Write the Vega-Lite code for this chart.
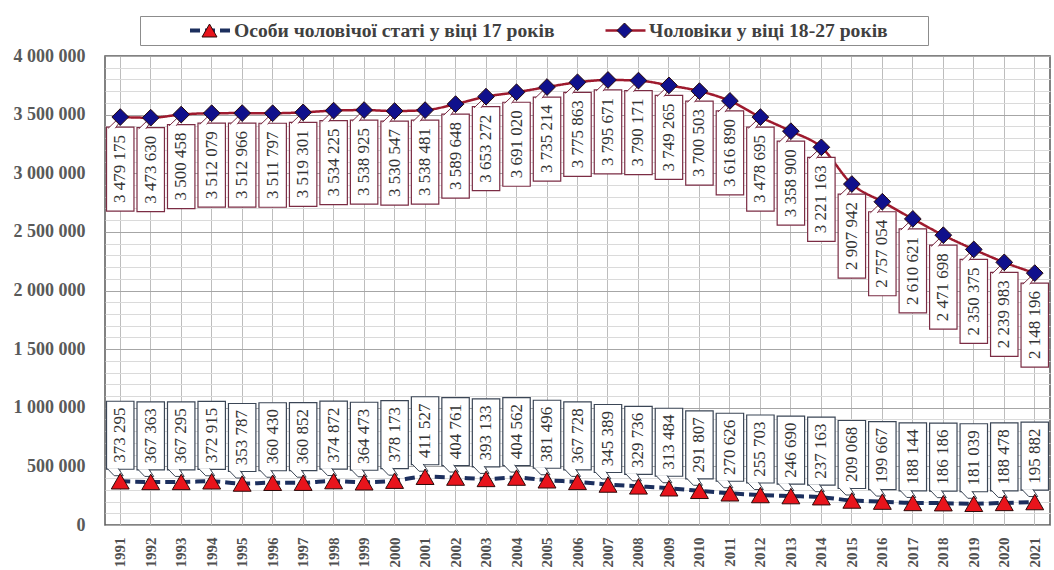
{
  "$schema": "https://vega.github.io/schema/vega-lite/v6.json",
  "width": 1054,
  "height": 570,
  "autosize": {"type": "fit", "contains": "padding"},
  "padding": {"left": 13, "top": 47, "right": 4, "bottom": 3},
  "background": "white",
  "config": {
    "locale": {"number": {"decimal": ",", "thousands": " ", "grouping": [3], "currency": ["", ""]}},
    "view": {"stroke": "#5a5a5a", "strokeWidth": 1.5},
    "font": "Liberation Serif"
  },
  "data": {
    "values": [
      {"year": 1991, "s": "Особи чоловічої статі у віці 17 років", "v": 373295},
      {"year": 1992, "s": "Особи чоловічої статі у віці 17 років", "v": 367363},
      {"year": 1993, "s": "Особи чоловічої статі у віці 17 років", "v": 367295},
      {"year": 1994, "s": "Особи чоловічої статі у віці 17 років", "v": 372915},
      {"year": 1995, "s": "Особи чоловічої статі у віці 17 років", "v": 353787},
      {"year": 1996, "s": "Особи чоловічої статі у віці 17 років", "v": 360430},
      {"year": 1997, "s": "Особи чоловічої статі у віці 17 років", "v": 360852},
      {"year": 1998, "s": "Особи чоловічої статі у віці 17 років", "v": 374872},
      {"year": 1999, "s": "Особи чоловічої статі у віці 17 років", "v": 364473},
      {"year": 2000, "s": "Особи чоловічої статі у віці 17 років", "v": 378173},
      {"year": 2001, "s": "Особи чоловічої статі у віці 17 років", "v": 411527},
      {"year": 2002, "s": "Особи чоловічої статі у віці 17 років", "v": 404761},
      {"year": 2003, "s": "Особи чоловічої статі у віці 17 років", "v": 393133},
      {"year": 2004, "s": "Особи чоловічої статі у віці 17 років", "v": 404562},
      {"year": 2005, "s": "Особи чоловічої статі у віці 17 років", "v": 381496},
      {"year": 2006, "s": "Особи чоловічої статі у віці 17 років", "v": 367728},
      {"year": 2007, "s": "Особи чоловічої статі у віці 17 років", "v": 345389},
      {"year": 2008, "s": "Особи чоловічої статі у віці 17 років", "v": 329736},
      {"year": 2009, "s": "Особи чоловічої статі у віці 17 років", "v": 313484},
      {"year": 2010, "s": "Особи чоловічої статі у віці 17 років", "v": 291807},
      {"year": 2011, "s": "Особи чоловічої статі у віці 17 років", "v": 270626},
      {"year": 2012, "s": "Особи чоловічої статі у віці 17 років", "v": 255703},
      {"year": 2013, "s": "Особи чоловічої статі у віці 17 років", "v": 246690},
      {"year": 2014, "s": "Особи чоловічої статі у віці 17 років", "v": 237163},
      {"year": 2015, "s": "Особи чоловічої статі у віці 17 років", "v": 209068},
      {"year": 2016, "s": "Особи чоловічої статі у віці 17 років", "v": 199667},
      {"year": 2017, "s": "Особи чоловічої статі у віці 17 років", "v": 188144},
      {"year": 2018, "s": "Особи чоловічої статі у віці 17 років", "v": 186186},
      {"year": 2019, "s": "Особи чоловічої статі у віці 17 років", "v": 181039},
      {"year": 2020, "s": "Особи чоловічої статі у віці 17 років", "v": 188478},
      {"year": 2021, "s": "Особи чоловічої статі у віці 17 років", "v": 195882},
      {"year": 1991, "s": "Чоловіки у віці 18-27 років", "v": 3479175},
      {"year": 1992, "s": "Чоловіки у віці 18-27 років", "v": 3473630},
      {"year": 1993, "s": "Чоловіки у віці 18-27 років", "v": 3500458},
      {"year": 1994, "s": "Чоловіки у віці 18-27 років", "v": 3512079},
      {"year": 1995, "s": "Чоловіки у віці 18-27 років", "v": 3512966},
      {"year": 1996, "s": "Чоловіки у віці 18-27 років", "v": 3511797},
      {"year": 1997, "s": "Чоловіки у віці 18-27 років", "v": 3519301},
      {"year": 1998, "s": "Чоловіки у віці 18-27 років", "v": 3534225},
      {"year": 1999, "s": "Чоловіки у віці 18-27 років", "v": 3538925},
      {"year": 2000, "s": "Чоловіки у віці 18-27 років", "v": 3530547},
      {"year": 2001, "s": "Чоловіки у віці 18-27 років", "v": 3538481},
      {"year": 2002, "s": "Чоловіки у віці 18-27 років", "v": 3589648},
      {"year": 2003, "s": "Чоловіки у віці 18-27 років", "v": 3653272},
      {"year": 2004, "s": "Чоловіки у віці 18-27 років", "v": 3691020},
      {"year": 2005, "s": "Чоловіки у віці 18-27 років", "v": 3735214},
      {"year": 2006, "s": "Чоловіки у віці 18-27 років", "v": 3775863},
      {"year": 2007, "s": "Чоловіки у віці 18-27 років", "v": 3795671},
      {"year": 2008, "s": "Чоловіки у віці 18-27 років", "v": 3790171},
      {"year": 2009, "s": "Чоловіки у віці 18-27 років", "v": 3749265},
      {"year": 2010, "s": "Чоловіки у віці 18-27 років", "v": 3700503},
      {"year": 2011, "s": "Чоловіки у віці 18-27 років", "v": 3616890},
      {"year": 2012, "s": "Чоловіки у віці 18-27 років", "v": 3478695},
      {"year": 2013, "s": "Чоловіки у віці 18-27 років", "v": 3358900},
      {"year": 2014, "s": "Чоловіки у віці 18-27 років", "v": 3221163},
      {"year": 2015, "s": "Чоловіки у віці 18-27 років", "v": 2907942},
      {"year": 2016, "s": "Чоловіки у віці 18-27 років", "v": 2757054},
      {"year": 2017, "s": "Чоловіки у віці 18-27 років", "v": 2610621},
      {"year": 2018, "s": "Чоловіки у віці 18-27 років", "v": 2471698},
      {"year": 2019, "s": "Чоловіки у віці 18-27 років", "v": 2350375},
      {"year": 2020, "s": "Чоловіки у віці 18-27 років", "v": 2239983},
      {"year": 2021, "s": "Чоловіки у віці 18-27 років", "v": 2148196}
    ]
  },
  "encoding": {
    "x": {
      "field": "year",
      "type": "ordinal",
      "scale": {"type": "band", "paddingInner": 0, "paddingOuter": 0},
      "axis": {
        "title": null,
        "labelAngle": 270,
        "labelFont": "Liberation Serif",
        "labelFontSize": 15,
        "labelFontWeight": "bold",
        "labelColor": "#505050",
        "labelPadding": 12,
        "ticks": false,
        "domain": false,
        "grid": true,
        "gridColor": "#bdbdbd",
        "bandPosition": 0.5
      }
    },
    "y": {
      "field": "v",
      "type": "quantitative",
      "scale": {"domain": [0, 4000000], "nice": false, "zero": true},
      "axis": {
        "title": null,
        "values": [0, 100000, 200000, 300000, 400000, 500000, 600000, 700000, 800000, 900000, 1000000, 1100000, 1200000, 1300000, 1400000, 1500000, 1600000, 1700000, 1800000, 1900000, 2000000, 2100000, 2200000, 2300000, 2400000, 2500000, 2600000, 2700000, 2800000, 2900000, 3000000, 3100000, 3200000, 3300000, 3400000, 3500000, 3600000, 3700000, 3800000, 3900000, 4000000],
        "format": ",d",
        "labelExpr": "datum.value % 500000 === 0 ? datum.label : ''",
        "labelOverlap": false,
        "labelFont": "Liberation Serif",
        "labelFontSize": 18,
        "labelFontWeight": "bold",
        "labelColor": "#595959",
        "labelPadding": 20,
        "ticks": false,
        "domain": false,
        "gridColor": {"condition": {"test": "datum.value % 500000 === 0", "value": "#a6a6a6"}, "value": "#dadada"},
        "gridWidth": 1
      }
    }
  },
  "layer": [
    {
      "mark": {"type": "line", "interpolate": "monotone"},
      "encoding": {
        "stroke": {
          "field": "s",
          "type": "nominal",
          "scale": {"range": ["#1c2f5e", "#9e1a2e"]},
          "legend": {
            "orient": "none",
            "legendX": 35,
            "legendY": -40,
            "direction": "horizontal",
            "title": " ",
            "titleOrient": "right",
            "titlePadding": 36,
            "padding": 4.5,
            "strokeColor": "#8c8c8c",
            "symbolOffset": 43.5,
            "labelOffset": 2,
            "columnPadding": 6,
            "clipHeight": 20,
            "labelLimit": 600,
            "labelFont": "Liberation Serif",
            "labelFontSize": 19.6,
            "labelFontWeight": "bold",
            "labelColor": "#404040",
            "symbolType": "stroke",
            "symbolSize": 1600,
            "symbolStrokeWidth": 3,
            "zindex": 1
          }
        },
        "strokeDash": {
          "field": "s",
          "type": "nominal",
          "scale": {"range": [[10, 5], [1, 0]]},
          "legend": {
            "orient": "none",
            "legendX": 35,
            "legendY": -40,
            "direction": "horizontal",
            "title": " ",
            "titleOrient": "right",
            "titlePadding": 36,
            "padding": 4.5,
            "strokeColor": "#8c8c8c",
            "symbolOffset": 43.5,
            "labelOffset": 2,
            "columnPadding": 6,
            "clipHeight": 20,
            "labelLimit": 600,
            "labelFont": "Liberation Serif",
            "labelFontSize": 19.6,
            "labelFontWeight": "bold",
            "labelColor": "#404040",
            "symbolType": "stroke",
            "symbolSize": 1600,
            "symbolStrokeWidth": 3,
            "zindex": 1
          }
        },
        "strokeWidth": {"field": "s", "type": "nominal", "scale": {"range": [4, 2.5]}, "legend": null}
      }
    },
    {
      "transform": [{"filter": "datum.s === 'Чоловіки у віці 18-27 років'"}],
      "mark": {"type": "bar", "width": {"band": 0.9}, "fill": "white", "stroke": "#7b2c44", "strokeWidth": 1.2, "yOffset": 10, "y2Offset": 94},
      "encoding": {"y2": {"field": "v"}}
    },
    {
      "transform": [{"filter": "datum.s === 'Чоловіки у віці 18-27 років'"}],
      "mark": {"type": "text", "angle": 270, "fontSize": 17, "font": "Liberation Serif", "fill": "#333333", "yOffset": 52, "align": "center", "baseline": "middle"},
      "encoding": {"text": {"field": "v", "type": "quantitative", "format": ",d"}}
    },
    {
      "transform": [{"filter": "datum.s === 'Чоловіки у віці 18-27 років'"}],
      "mark": {"type": "point", "shape": "M-1.2,1.12L-0.35,0.3L0.1,0.3L-0.5,1.12", "size": 400, "filled": true, "fill": "white", "stroke": "#7b2c44", "strokeWidth": 1, "opacity": 1}
    },
    {
      "transform": [{"filter": "datum.s === 'Особи чоловічої статі у віці 17 років'"}],
      "mark": {"type": "bar", "width": {"band": 0.9}, "fill": "white", "stroke": "#3b4656", "strokeWidth": 1.2, "yOffset": -80, "y2Offset": -12},
      "encoding": {"y2": {"field": "v"}}
    },
    {
      "transform": [{"filter": "datum.s === 'Особи чоловічої статі у віці 17 років'"}],
      "mark": {"type": "text", "angle": 270, "fontSize": 17, "font": "Liberation Serif", "fill": "#333333", "yOffset": -46, "align": "center", "baseline": "middle"},
      "encoding": {"text": {"field": "v", "type": "quantitative", "format": ",d"}}
    },
    {
      "transform": [{"filter": "datum.s === 'Особи чоловічої статі у віці 17 років'"}],
      "mark": {"type": "point", "shape": "M-1.3,-1.28L-0.6,-0.55L0.3,-0.55L-0.2,-1.28", "size": 400, "filled": true, "fill": "white", "stroke": "#3b4656", "strokeWidth": 1, "opacity": 1}
    },
    {
      "transform": [{"filter": "datum.v > 0"}],
      "mark": {"type": "point", "filled": true, "stroke": "#2a0a0a", "strokeWidth": 1, "opacity": 1},
      "encoding": {
        "shape": {
          "field": "s",
          "type": "nominal",
          "scale": {"domain": ["Особи чоловічої статі у віці 17 років", "Чоловіки у віці 18-27 років"], "range": ["triangle-up", "diamond"]},
          "legend": {
            "orient": "none",
            "legendX": 35,
            "legendY": -40,
            "direction": "horizontal",
            "title": " ",
            "titleOrient": "right",
            "titlePadding": 36,
            "padding": 4.5,
            "symbolOffset": 55.2,
            "labelOffset": 13.7,
            "columnPadding": 6,
            "clipHeight": 20,
            "labelLimit": 600,
            "labelFont": "Liberation Serif",
            "labelFontSize": 19.6,
            "labelFontWeight": "bold",
            "labelOpacity": 0,
            "titleOpacity": 0,
            "symbolSize": 225,
            "symbolStrokeWidth": 1,
            "zindex": 2
          }
        },
        "fill": {
          "field": "s",
          "type": "nominal",
          "scale": {"domain": ["Особи чоловічої статі у віці 17 років", "Чоловіки у віці 18-27 років"], "range": ["#e8141c", "#10108c"]},
          "legend": {
            "orient": "none",
            "legendX": 35,
            "legendY": -40,
            "direction": "horizontal",
            "title": " ",
            "titleOrient": "right",
            "titlePadding": 36,
            "padding": 4.5,
            "symbolOffset": 55.2,
            "labelOffset": 13.7,
            "columnPadding": 6,
            "clipHeight": 20,
            "labelLimit": 600,
            "labelFont": "Liberation Serif",
            "labelFontSize": 19.6,
            "labelFontWeight": "bold",
            "labelOpacity": 0,
            "titleOpacity": 0,
            "symbolSize": 225,
            "symbolStrokeWidth": 1,
            "zindex": 2
          }
        },
        "size": {"field": "s", "type": "nominal", "scale": {"range": [320, 280]}, "legend": null}
      }
    },
    {
      "data": {"values": [{"letter": "Б"}]},
      "mark": {"type": "point", "shape": "M-1.5,-1.27H1.5V1.27H-1.5Z", "size": 484, "filled": true, "fill": "white", "stroke": "#3b4656", "strokeWidth": 1.5, "opacity": 1, "xOffset": -51},
      "encoding": {"x": {"datum": 1991, "type": "ordinal"}, "y": {"datum": 3270000, "type": "quantitative"}}
    },
    {
      "data": {"values": [{"letter": "Б"}]},
      "mark": {"type": "text", "fontSize": 21, "fontWeight": "bold", "font": "Liberation Serif", "fill": "#111111", "xOffset": -51, "align": "center", "baseline": "middle"},
      "encoding": {"x": {"datum": 1991, "type": "ordinal"}, "y": {"datum": 3270000, "type": "quantitative"}, "text": {"field": "letter"}}
    },
    {
      "data": {"values": [{"letter": "А"}]},
      "mark": {"type": "point", "shape": "M-1.5,-1.27H1.5V1.27H-1.5Z", "size": 484, "filled": true, "fill": "white", "stroke": "#7b2c44", "strokeWidth": 1.5, "opacity": 1, "xOffset": -55},
      "encoding": {"x": {"datum": 1991, "type": "ordinal"}, "y": {"datum": 720000, "type": "quantitative"}}
    },
    {
      "data": {"values": [{"letter": "А"}]},
      "mark": {"type": "text", "fontSize": 21, "fontWeight": "bold", "font": "Liberation Serif", "fill": "#111111", "xOffset": -55, "align": "center", "baseline": "middle"},
      "encoding": {"x": {"datum": 1991, "type": "ordinal"}, "y": {"datum": 720000, "type": "quantitative"}, "text": {"field": "letter"}}
    }
  ]
}
